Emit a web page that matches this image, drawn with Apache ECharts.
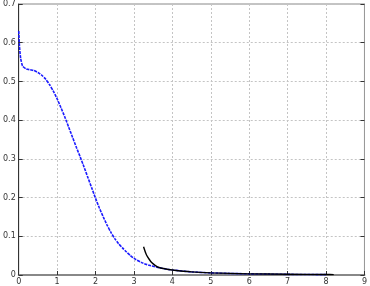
<!DOCTYPE html>
<html><head><meta charset="utf-8">
<script src="https://cdn.jsdelivr.net/npm/echarts@6/dist/echarts.min.js"></script>
<style>html,body{margin:0;padding:0;background:#fff}#c{width:370px;height:286px}</style>
</head><body><div id="c"></div>
<script>
var blueX = [0,0.02,0.05,0.1,0.2,0.3,0.4,0.5,0.6,0.7,0.8,0.9,1.0,1.1,1.2,1.3,1.4,1.5,1.6,1.7,1.8,1.9,2.0,2.1,2.2,2.3,2.4,2.5,2.6,2.7,2.8,2.9,3.0,3.2,3.4,3.6,3.8,4.0,4.5,5,5.5,6,6.5,7,7.5,8];
var blueY = [0.63,0.59,0.56,0.54,0.532,0.53,0.528,0.523,0.516,0.506,0.492,0.475,0.455,0.432,0.408,0.382,0.356,0.330,0.305,0.279,0.252,0.225,0.198,0.173,0.150,0.129,0.110,0.094,0.081,0.070,0.060,0.051,0.043,0.032,0.025,0.020,0.016,0.013,0.008,0.0055,0.004,0.003,0.0022,0.0016,0.0012,0.001];
var blackX = [3.25,3.3,3.33,3.4,3.46,3.55,3.63,3.8,4.0,4.5,5,6,7,8,8.2];
var blackY = [0.073,0.058,0.051,0.040,0.032,0.025,0.020,0.016,0.013,0.008,0.0055,0.003,0.002,0.0012,0.001];
function pairs(xs, ys){ return xs.map(function(x,i){return [x, ys[i]];}); }
var chart = echarts.init(document.getElementById('c'));
var lbl = {fontSize:8, color:'#333', fontFamily:'DejaVu Sans'};
chart.setOption({
  animation:false,
  grid:{left:17,right:2,top:3,bottom:11,show:true,borderColor:'#888',borderWidth:1},
  xAxis:{type:'value',min:0,max:9,interval:1,
    axisLine:{show:true,lineStyle:{color:'#888',width:2}},
    axisTick:{show:true,inside:true,length:4,lineStyle:{color:'#333'}},
    axisLabel:Object.assign({margin:3},lbl),
    splitLine:{show:true,lineStyle:{color:'#c4c4c4',type:[2,2],width:1}}},
  yAxis:[{type:'value',min:0,max:0.7,interval:0.1,
    axisLine:{show:true,lineStyle:{color:'#333',width:1}},
    axisTick:{show:true,inside:true,length:4,lineStyle:{color:'#333'}},
    axisLabel:Object.assign({margin:3,formatter:function(v){return String(Math.round(v*10)/10);}},lbl),
    splitLine:{show:true,lineStyle:{color:'#c4c4c4',type:[2,2],width:1}}},
    {type:'value',min:0,max:0.7,interval:0.1,position:'right',
    axisLine:{show:true,lineStyle:{color:'#999',width:1}},
    axisTick:{show:true,inside:true,length:4,lineStyle:{color:'#333'}},
    axisLabel:{show:false},splitLine:{show:false}}],
  series:[
    {type:'line',data:pairs(blueX,blueY),smooth:0.2,showSymbol:false,
     lineStyle:{color:'#1a1aff',width:1.6,type:[3,1]}},
    {type:'line',data:pairs(blackX,blackY),smooth:0.2,showSymbol:false,
     lineStyle:{color:'#000',width:1.4}}
  ]
});
</script></body></html>
